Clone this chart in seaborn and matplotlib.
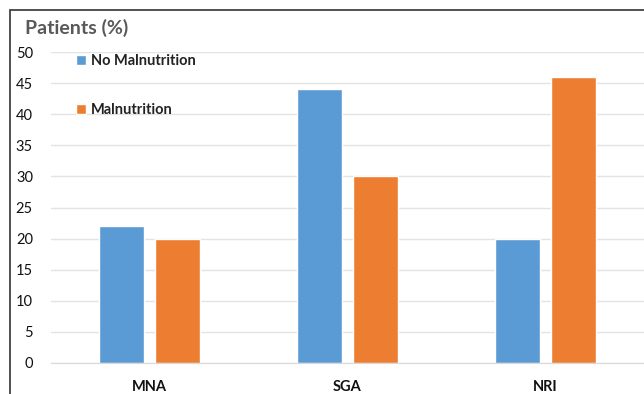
import numpy as np
import pandas as pd
import matplotlib
matplotlib.use('Agg')
import matplotlib.pyplot as plt
import seaborn as sns
from matplotlib.patches import Rectangle

# data
tools = ['MNA', 'SGA', 'NRI']
no_maln = [22, 44, 20]
maln = [20, 30, 46]
groups = ['No Malnutrition', 'Malnutrition']

df = pd.DataFrame({
    'tool': tools * 2,
    'group': [groups[0]] * 3 + [groups[1]] * 3,
    'pct': no_maln + maln,
})

sns.set_style('white')
plt.rcParams['font.family'] = ['Lato', 'DejaVu Sans']

fig = plt.figure(figsize=(6.44, 3.94), dpi=100)
ax = fig.add_axes([51 / 644, 1 - 363 / 394, 1 - 51 / 644, (363 - 52) / 394])

sns.barplot(data=df, x='tool', y='pct', hue='group', hue_order=groups,
            palette=['#5B9BD5', '#ED7D31'], width=0.566, gap=0.2,
            saturation=1, ax=ax)

ax.set_xlim(-0.5, 2.5)
ax.set_ylim(0, 50)
ax.set_yticks(np.arange(0, 51, 5))
ax.yaxis.grid(True, color='#E3E3E3', lw=1)
ax.set_axisbelow(True)
for s in ['top', 'right', 'left']:
    ax.spines[s].set_visible(False)
ax.spines['bottom'].set_color('#D9D9D9')
ax.set_xlabel('')
ax.set_ylabel('')
ax.tick_params(axis='both', length=0, labelsize=10.5, colors='#111111')
ax.tick_params(axis='x', pad=12)
ax.tick_params(axis='y', pad=13)
for t in ax.get_xticklabels():
    t.set_fontweight('bold')

handles, labels = ax.get_legend_handles_labels()
ax.legend(handles, labels, loc='upper left', bbox_to_anchor=(0.02, 1.035),
          frameon=False, handlelength=0.7, handleheight=0.7, handletextpad=0.3,
          labelspacing=2.4, prop={'weight': 'bold', 'size': 10.5})
for t in ax.get_legend().get_texts():
    t.set_color('#222222')

fig.text(25 / 644, 1 - 28 / 394, 'Patients (%)', fontsize=14, fontweight='bold',
         color='#595959', va='center', ha='left')

# outer frame of the figure
fig.patches.append(Rectangle((10 / 644, -0.01), 1.0, 1 - 10 / 394 + 0.01,
                             transform=fig.transFigure, fill=False,
                             edgecolor='#333333', lw=1.2))

fig.savefig('out.png', dpi=100)
